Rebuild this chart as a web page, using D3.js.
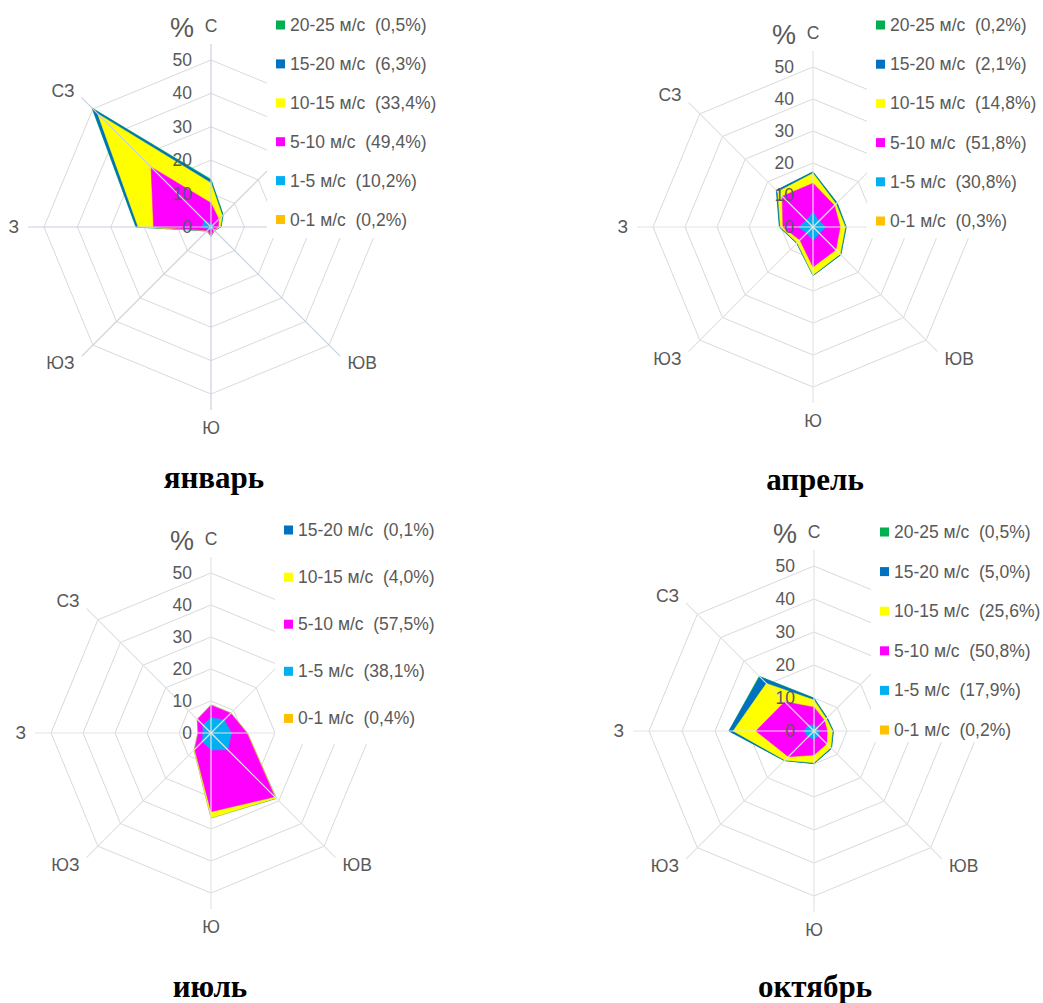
<!DOCTYPE html>
<html>

<head>
    <meta charset='utf-8'>
    <title>Розы ветров</title>
    <script type='text/javascript' src='https://cdn.jsdelivr.net/npm/d3@7/dist/d3.min.js'></script>
    <style>
        body { margin: 0; background: #fff; }
    </style>
</head>

<body>
    <svg width='1043' height='1003'></svg>
    <script type='text/javascript'>

        // направления (по часовой стрелке от севера)
        const directions = ['С', 'СВ', 'В', 'ЮВ', 'Ю', 'ЮЗ', 'З', 'СЗ']
        const speedClasses = ['0-1 м/с', '1-5 м/с', '5-10 м/с', '10-15 м/с', '15-20 м/с', '20-25 м/с']
        const classColors = ['#FFC000', '#00B0F0', '#FF00FF', '#FFFF00', '#0070C0', '#00B050']
        const ticks = [0, 10, 20, 30, 40, 50]

        // накопленные значения, % (С, СВ, В, ЮВ, Ю, ЮЗ, З, СЗ), по градациям скорости
        const janSeries = [
            [0.1, 0.1, 0.1, 0.1, 0.1, 0.1, 0.2, 0.2],
            [1.0, 0.8, 0.7, 0.6, 1.0, 0.8, 2.7, 2.6],
            [7.2, 3.3, 2.2, 1.2, 2.5, 1.5, 17.2, 25.4],
            [13.2, 4.8, 2.8, 1.4, 2.7, 1.6, 21.8, 48.0],
            [14.0, 5.1, 3.0, 1.5, 2.8, 1.7, 22.4, 50.2],
            [14.3, 5.2, 3.0, 1.5, 2.8, 1.7, 22.5, 50.4]
        ]
        const janShares = ['0,2%', '10,2%', '49,4%', '33,4%', '6,3%', '0,5%']

        const aprSeries = [
            [0.1, 0.0, 0.0, 0.0, 0.0, 0.0, 0.1, 0.1],
            [4.7, 2.6, 4.0, 2.8, 4.2, 2.8, 4.5, 3.0],
            [13.7, 9.5, 8.5, 10.1, 12.5, 5.8, 9.4, 13.6],
            [16.8, 10.2, 10.1, 12.0, 15.0, 7.0, 10.2, 15.6],
            [17.2, 10.6, 10.4, 12.3, 15.2, 7.2, 10.5, 16.2],
            [17.3, 10.7, 10.4, 12.3, 15.2, 7.2, 10.5, 16.2]
        ]
        const aprShares = ['0,3%', '30,8%', '51,8%', '14,8%', '2,1%', '0,2%']

        const julSeries = [
            [0.1, 0.1, 0.0, 0.0, 0.1, 0.0, 0.0, 0.1],
            [4.8, 5.8, 6.4, 7.4, 5.3, 3.8, 2.5, 3.6],
            [8.7, 8.7, 11.2, 28.2, 24.6, 7.2, 4.0, 6.0],
            [8.8, 8.8, 11.4, 28.8, 26.6, 7.5, 4.1, 6.1],
            [8.8, 8.8, 11.4, 28.9, 26.6, 7.5, 4.1, 6.1]
        ]
        const julShares = ['0,4%', '38,1%', '57,5%', '4,0%', '0,1%']

        const octSeries = [
            [0.0, 0.0, 0.0, 0.0, 0.0, 0.0, 0.1, 0.1],
            [1.8, 1.5, 1.5, 2.0, 2.5, 2.5, 3.0, 2.5],
            [7.2, 4.5, 4.0, 5.5, 7.3, 11.0, 17.6, 12.5],
            [9.4, 5.3, 5.6, 7.2, 9.6, 12.5, 24.5, 20.4],
            [9.9, 5.6, 5.9, 7.5, 9.9, 12.7, 25.8, 23.2],
            [10.0, 5.7, 5.9, 7.5, 9.9, 12.7, 25.8, 23.5]
        ]
        const octShares = ['0,2%', '17,9%', '50,8%', '25,6%', '5,0%', '0,5%']

        const panels = [
            { month: 'январь', series: janSeries, shares: janShares, cx: 211, cy: 227, r: 167, legendX: 276, legendY: 25, legendStep: 38.9, titleX: 214, titleY: 488, spoke: '#c9d0de' },
            { month: 'апрель', series: aprSeries, shares: aprShares, cx: 813, cy: 227, r: 160, legendX: 876, legendY: 25, legendStep: 39.2, titleX: 815, titleY: 490, spoke: '#e4e4e4' },
            { month: 'июль', series: julSeries, shares: julShares, cx: 211, cy: 733, r: 160, legendX: 284, legendY: 530, legendStep: 47.1, titleX: 210, titleY: 997, spoke: '#e4e4e4' },
            { month: 'октябрь', series: octSeries, shares: octShares, cx: 814, cy: 731, r: 165, legendX: 880, legendY: 532, legendStep: 39.6, titleX: 815, titleY: 997, spoke: '#e4e4e4' }
        ]

        const svg = d3.select('svg')
        const textColor = '#595959'
        const labelFont = "'Liberation Sans', Arial, sans-serif"
        const labelSize = '17.5px'

        panels.forEach(renderRose)

        function renderRose(p) {
            const g = svg.append('g').attr('transform', `translate(${p.cx}, ${p.cy})`)
            const rScale = d3.scaleLinear().domain([0, 50]).range([0, p.r])
            const angle = i => i * 2 * Math.PI / directions.length

            const radial = d3.lineRadial()
                .angle((d, i) => angle(i))
                .radius(d => rScale(d))
                .curve(d3.curveLinearClosed)

            // кольца сетки
            g.selectAll('.ring').data(ticks.filter(t => t > 0)).enter()
                .append('path')
                .attr('class', 'ring')
                .attr('d', t => radial(directions.map(() => t)))
                .attr('fill', 'none')
                .attr('stroke', '#d9d9d9')
                .attr('stroke-width', 1)

            // слои: от внешнего (наибольшая скорость) к внутреннему
            const layers = p.series.map((values, k) => ({ values, k })).reverse()
            g.selectAll('.layer').data(layers).enter()
                .append('path')
                .attr('class', 'layer')
                .attr('d', d => radial(d.values))
                .attr('fill', d => classColors[d.k])
                .attr('stroke', d => classColors[d.k])
                .attr('stroke-width', 0.5)

            // лучи
            const axisLen = rScale(50) + 16
            g.selectAll('.spoke').data(directions).enter()
                .append('line')
                .attr('class', 'spoke')
                .attr('x1', 0).attr('y1', 0)
                .attr('x2', (d, i) => axisLen * Math.sin(angle(i)))
                .attr('y2', (d, i) => -axisLen * Math.cos(angle(i)))
                .attr('stroke', p.spoke)
                .attr('stroke-width', 1.2)

            // подписи шкалы
            g.selectAll('.tick').data(ticks).enter()
                .append('text')
                .attr('class', 'tick')
                .attr('x', -19)
                .attr('y', t => -rScale(t))
                .attr('text-anchor', 'end')
                .attr('dominant-baseline', 'central')
                .style('font-family', labelFont)
                .style('font-size', labelSize)
                .style('fill', textColor)
                .text(t => t)

            g.append('text')
                .attr('x', -29)
                .attr('y', -p.r - 32)
                .attr('text-anchor', 'middle')
                .attr('dominant-baseline', 'central')
                .style('font-family', labelFont)
                .style('font-size', '27px')
                .style('fill', textColor)
                .text('%')

            // белая подложка легенды закрывает правую верхнюю часть сетки
            const box = { x: p.legendX - 9, y: p.cy - p.r - 50, w: 200, h: p.r + 61 }
            svg.append('rect')
                .attr('x', box.x).attr('y', box.y)
                .attr('width', box.w).attr('height', box.h)
                .attr('fill', '#fff')

            // подписи направлений (кроме закрытых легендой)
            const labelPos = directions.map((d, i) => {
                const a = angle(i)
                const sx = Math.sin(a), sy = -Math.cos(a)
                if (i % 2 === 0) {
                    if (i === 0 || i === 4) return { d, x: 0, y: sy * (p.r + 34), anchor: 'middle' }
                    return { d, x: sx * (p.r + 25), y: 0, anchor: sx < 0 ? 'end' : 'start' }
                }
                const dist = p.r + 26
                return { d, x: sx * dist, y: sy * dist, anchor: sx < 0 ? 'end' : 'start' }
            }).filter(l => {
                const ax = p.cx + l.x, ay = p.cy + l.y
                return !(ax > box.x && ay < box.y + box.h)
            })

            svg.append('g').attr('transform', `translate(${p.cx}, ${p.cy})`)
                .selectAll('text').data(labelPos).enter()
                .append('text')
                .attr('x', l => l.x)
                .attr('y', l => l.y)
                .attr('text-anchor', l => l.anchor)
                .attr('dominant-baseline', 'central')
                .style('font-family', labelFont)
                .style('font-size', labelSize)
                .style('fill', textColor)
                .text(l => l.d)

            // легенда: сверху вниз от старших градаций
            const n = p.series.length
            const legend = svg.append('g')
            const rows = d3.range(n).map(j => n - 1 - j)
            const items = legend.selectAll('g').data(rows).enter().append('g')
                .attr('transform', (k, j) => `translate(${p.legendX}, ${p.legendY + j * p.legendStep})`)
            items.append('rect')
                .attr('x', 0).attr('y', -4.5)
                .attr('width', 9).attr('height', 9)
                .attr('fill', k => classColors[k])
            items.append('text')
                .attr('x', 14)
                .attr('y', 0)
                .attr('dominant-baseline', 'central')
                .style('white-space', 'pre')
                .style('font-family', labelFont)
                .style('font-size', labelSize)
                .style('fill', textColor)
                .text(k => `${speedClasses[k]}  (${p.shares[k]})`)

            // заголовок месяца
            svg.append('text')
                .attr('x', p.titleX)
                .attr('y', p.titleY)
                .attr('text-anchor', 'middle')
                .style('font-family', "'Liberation Serif', 'Times New Roman', serif")
                .style('font-weight', 'bold')
                .style('font-size', '31px')
                .style('fill', '#000')
                .text(p.month)
        }
    </script>
</body>

</html>
